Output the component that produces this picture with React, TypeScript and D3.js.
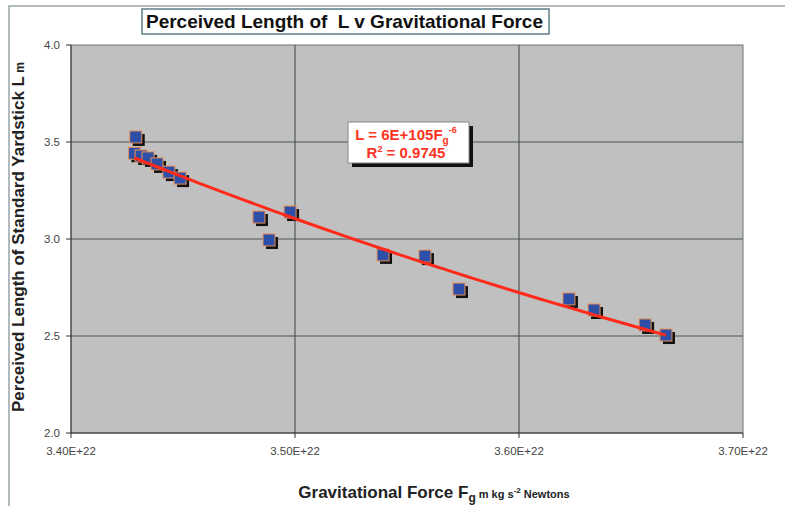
import React from "react";
import * as d3 from "d3";

const forceValues = [3.4289e22, 3.4283e22, 3.4313e22, 3.4344e22, 3.4384e22, 3.4437e22, 3.4487e22, 3.4839e22, 3.4978e22, 3.4884e22, 3.5393e22, 3.5580e22, 3.5732e22, 3.6223e22, 3.6335e22, 3.6563e22, 3.6656e22];
const lengthValues = [3.526, 3.442, 3.428, 3.418, 3.387, 3.345, 3.314, 3.113, 3.139, 2.995, 2.918, 2.912, 2.742, 2.691, 2.634, 2.557, 2.505];
const xTicks = [3.4e22, 3.5e22, 3.6e22, 3.7e22];
const xTickLabels = ["3.40E+22", "3.50E+22", "3.60E+22", "3.70E+22"];
const yTicks = [2.0, 2.5, 3.0, 3.5, 4.0];
const yTickLabels = ["2.0", "2.5", "3.0", "3.5", "4.0"];
const titleText = "Perceived Length of  L v Gravitational Force";
const eqMain = "L = 6E+105F";
const eqSub = "g";
const eqSup = "-6";
const r2Text = "0.9745";

const FONT = "'Liberation Sans', Arial, sans-serif";

export default function App() {
  const left = 71, right = 743, top = 45, bottom = 433;
  const x = d3.scaleLinear().domain([3.4e22, 3.7e22]).range([left, right]);
  const y = d3.scaleLinear().domain([2.0, 4.0]).range([bottom, top]);

  // power-law trendline fit in log space
  const lx = forceValues.map((v) => Math.log(v));
  const ly = lengthValues.map((v) => Math.log(v));
  const mx = d3.mean(lx)!, my = d3.mean(ly)!;
  let sxy = 0, sxx = 0;
  lx.forEach((v, i) => { sxy += (v - mx) * (ly[i] - my); sxx += (v - mx) * (v - mx); });
  const b = sxy / sxx;
  const a = my - b * mx;
  const fMin = d3.min(forceValues)!, fMax = d3.max(forceValues)!;
  const trend = d3.range(0, 51).map((i) => {
    const f = fMin + (fMax - fMin) * i / 50;
    return [f, Math.exp(a + b * Math.log(f))] as [number, number];
  });
  const line = d3.line<[number, number]>().x((d) => x(d[0])).y((d) => y(d[1]));

  const ms = 12;
  return (
    <svg width={785} height={506} style={{ position: "absolute", left: 0, top: 0, background: "#fff" }} fontFamily={FONT}>
      <rect x={9} y={6} width={800} height={520} fill="#fff" stroke="#9aa4a8" strokeWidth={1.5} />
      {/* plot area */}
      <rect x={left} y={top} width={right - left} height={bottom - top} fill="#c0c0c0" stroke="#6d7478" strokeWidth={1} />
      {yTicks.filter((t) => t > 2 && t < 4).map((t) => (
        <line key={"gy" + t} x1={left} x2={right} y1={y(t)} y2={y(t)} stroke="#4a5558" strokeWidth={1} />
      ))}
      {xTicks.filter((t, i) => i > 0 && i < xTicks.length - 1).map((t) => (
        <line key={"gx" + t} x1={x(t)} x2={x(t)} y1={top} y2={bottom} stroke="#3a4245" strokeWidth={1} />
      ))}
      {/* axes */}
      <line x1={left} x2={left} y1={top} y2={bottom} stroke="#333" strokeWidth={1} />
      <line x1={left} x2={right} y1={bottom} y2={bottom} stroke="#333" strokeWidth={1} />
      {yTicks.map((t, i) => (
        <g key={"yt" + t}>
          <line x1={left - 5} x2={left} y1={y(t)} y2={y(t)} stroke="#333" />
          <text x={left - 11} y={y(t) + 4} textAnchor="end" fontSize={11.5} fill="#444">{yTickLabels[i]}</text>
        </g>
      ))}
      {xTicks.map((t, i) => (
        <g key={"xt" + t}>
          <line x1={x(t)} x2={x(t)} y1={bottom} y2={bottom + 5} stroke="#333" />
          <text x={x(t)} y={bottom + 22} textAnchor="middle" fontSize={11.5} fill="#444">{xTickLabels[i]}</text>
        </g>
      ))}
      {/* markers */}
      {forceValues.map((f, i) => (
        <g key={"m" + i}>
          <rect x={x(f) - ms / 2 + 3} y={y(lengthValues[i]) - ms / 2 + 3} width={ms} height={ms} fill="#111" />
          <rect x={x(f) - ms / 2} y={y(lengthValues[i]) - ms / 2} width={ms} height={ms} fill="#2d4fa8" stroke="#e8915a" strokeWidth={1} />
        </g>
      ))}
      {/* trendline */}
      <path d={line(trend) ?? ""} fill="none" stroke="#ff2a1a" strokeWidth={3} />
      {/* equation box */}
      <rect x={352} y={126} width={121} height={41} fill="#111" />
      <rect x={348} y={122} width={121} height={41} fill="#fff" stroke="#888" strokeWidth={1} />
      <text x={406} y={140} textAnchor="middle" fontSize={15} fontWeight="bold" fill="#ff3322">
        {eqMain}
        <tspan fontSize={10} dy={4}>{eqSub}</tspan>
        <tspan fontSize={9} dy={-11}>{eqSup}</tspan>
      </text>
      <text x={406} y={158} textAnchor="middle" fontSize={15} fontWeight="bold" fill="#ff3322">
        R<tspan fontSize={9} dy={-6}>2</tspan><tspan dy={6}>{" = " + r2Text}</tspan>
      </text>
      {/* title */}
      <rect x={142} y={9} width={407} height={25} fill="#fff" stroke="#5d7e86" strokeWidth={1.5} />
      <text x={146} y={28} fontSize={19} fontWeight="bold" fill="#111" textLength={397} lengthAdjust="spacing" style={{ whiteSpace: "pre" }}>{titleText}</text>
      {/* axis titles */}
      <text transform={`translate(24,${(top + bottom) / 2 - 2}) rotate(-90)`} textAnchor="middle" fontSize={17} fontWeight="bold" fill="#222">
        Perceived Length of Standard Yardstick L<tspan fontSize={12}>{"  m"}</tspan>
      </text>
      <text x={434} y={498} textAnchor="middle" fontSize={17} fontWeight="bold" fill="#222">
        Gravitational Force F<tspan fontSize={12} dy={4}>g</tspan>
        <tspan fontSize={11} dy={-4}>{" m kg s"}</tspan>
        <tspan fontSize={8} dy={-5}>-2</tspan>
        <tspan fontSize={11} dy={5}>{" Newtons"}</tspan>
      </text>
    </svg>
  );
}
